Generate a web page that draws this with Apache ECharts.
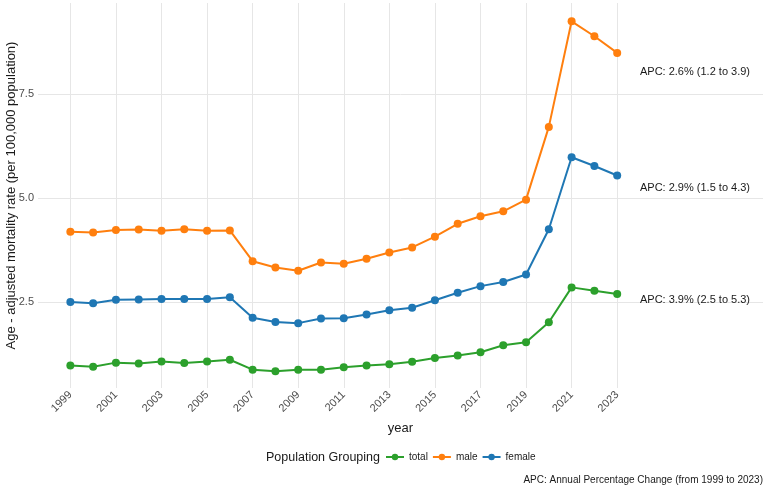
<!DOCTYPE html>
<html style="height: 100%">
<head>
    <meta charset="utf-8">
</head>
<body style="height: 100%; margin: 0; background: #fff">
<div id="container" style="width: 767px; height: 490px"></div>
<script type="text/javascript" src="https://cdn.jsdelivr.net/npm/echarts@6/dist/echarts.min.js"></script>
<script type="text/javascript">
    var years = [];
    for (var y = 1999; y <= 2023; y++) years.push(y);
    var xTicks = [1999, 2001, 2003, 2005, 2007, 2009, 2011, 2013, 2015, 2017, 2019, 2021, 2023];
    var yTicks = [2.5, 5.0, 7.5];

    var total = [0.97, 0.94, 1.04, 1.02, 1.07, 1.03, 1.07, 1.11, 0.87, 0.83, 0.87, 0.87, 0.93,
        0.97, 1.00, 1.06, 1.15, 1.21, 1.29, 1.46, 1.53, 2.01, 2.85, 2.77, 2.69];
    var male = [4.19, 4.17, 4.23, 4.24, 4.21, 4.25, 4.21, 4.22, 3.48, 3.33, 3.25, 3.45, 3.42,
        3.54, 3.69, 3.81, 4.07, 4.38, 4.56, 4.68, 4.96, 6.71, 9.25, 8.89, 8.49];
    var female = [2.50, 2.47, 2.55, 2.56, 2.57, 2.57, 2.57, 2.61, 2.12, 2.02, 1.99, 2.10, 2.11,
        2.20, 2.30, 2.36, 2.54, 2.72, 2.88, 2.98, 3.16, 4.25, 5.98, 5.77, 5.54];

    // APC labels: [text, label y]
    var apcMale = ['APC: 2.6% (1.2 to 3.9)', 8.03];
    var apcFemale = ['APC: 2.9% (1.5 to 4.3)', 5.25];
    var apcTotal = ['APC: 3.9% (2.5 to 5.3)', 2.55];

    var dom = document.getElementById("container");
    var myChart = echarts.init(dom);
    var font = 'Liberation Sans, Arial, sans-serif';

    function pairs(vals) {
        return years.map(function (yr, i) { return [yr, vals[i]]; });
    }
    function mk(name, vals, color, apc) {
        return {
            name: name,
            type: 'line',
            data: pairs(vals),
            symbol: 'circle',
            symbolSize: 8,
            lineStyle: { width: 2, color: color },
            itemStyle: { color: color },
            animation: false,
            markPoint: {
                symbol: 'circle',
                symbolSize: 0,
                silent: true,
                data: [{
                    coord: [2024, apc[1]],
                    label: {
                        show: true, formatter: apc[0], position: 'right', distance: 0,
                        color: '#1a1a1a', fontSize: 11, fontFamily: font
                    }
                }]
            }
        };
    }

    var option = {
        backgroundColor: '#fff',
        textStyle: { fontFamily: font },
        grid: { left: 38, right: 4, top: 3, bottom: 102, outerBoundsMode: 'none', containLabel: false },
        legend: {
            top: 452,
            left: 385,
            padding: 0,
            itemWidth: 18,
            itemHeight: 8,
            itemGap: 4,
            textStyle: { fontSize: 10, color: '#1a1a1a' },
            data: ['total', 'male', 'female']
        },
        graphic: [
            { type: 'text', left: 266, top: 451, style: { text: 'Population Grouping', fill: '#1a1a1a', font: '12.5px ' + font } },
            { type: 'text', right: 4, top: 475, style: { text: 'APC: Annual Percentage Change (from 1999 to 2023)', fill: '#1a1a1a', font: '10px ' + font } }
        ],
        xAxis: {
            type: 'value',
            min: 1997.58,
            max: 2029.4,
            name: 'year',
            nameLocation: 'middle',
            nameGap: 34,
            nameTextStyle: { fontSize: 13, color: '#1a1a1a' },
            axisLine: { show: false },
            axisTick: { show: false, customValues: xTicks },
            axisLabel: {
                customValues: xTicks, rotate: 45, fontSize: 11, color: '#4d4d4d', margin: 5,
                formatter: function (v) { return String(v); }
            },
            splitLine: { show: true, lineStyle: { color: '#e6e6e6', width: 1 } }
        },
        yAxis: {
            type: 'value',
            min: 0.43,
            max: 9.69,
            name: 'Age - adjusted mortality rate (per 100,000 population)',
            nameLocation: 'middle',
            nameGap: 20,
            nameMoveOverlap: false,
            nameTextStyle: { fontSize: 13, color: '#1a1a1a' },
            axisLine: { show: false },
            axisTick: { show: false, customValues: yTicks },
            axisLabel: {
                customValues: yTicks, fontSize: 11, color: '#4d4d4d', margin: 4,
                formatter: function (v) { return v.toFixed(1); }
            },
            splitLine: { show: true, lineStyle: { color: '#e6e6e6', width: 1 } }
        },
        series: [
            mk('total', total, '#2ca02c', apcTotal),
            mk('male', male, '#ff7f0e', apcMale),
            mk('female', female, '#1f77b4', apcFemale)
        ]
    };
    myChart.setOption(option, true);
</script>
</body>
</html>
